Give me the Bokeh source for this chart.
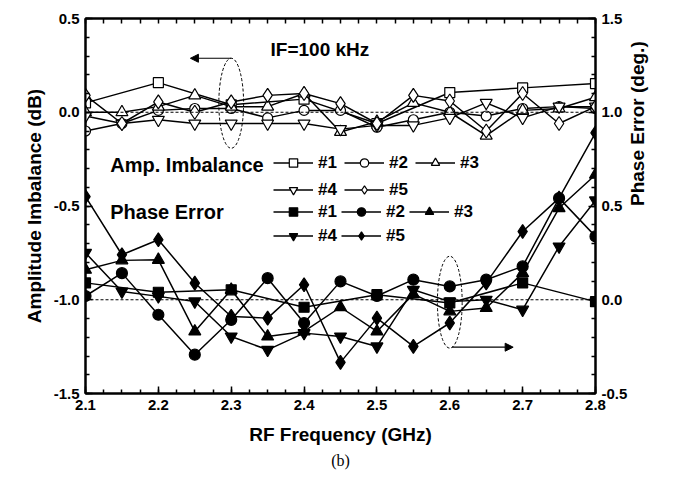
import numpy as np
from bokeh.plotting import figure
from bokeh.models import (Range1d, LinearAxis, FixedTicker, PrintfTickFormatter, Span, Label,
                          Legend, LegendItem, Arrow, NormalHead, Title)
from bokeh.embed import file_html
from bokeh.resources import INLINE

# ---------------- data ----------------
freq_fine = [2.10, 2.15, 2.20, 2.25, 2.30, 2.35, 2.40, 2.45, 2.50, 2.55, 2.60, 2.65, 2.70, 2.75, 2.80]
freq_coarse = [2.1, 2.2, 2.3, 2.4, 2.5, 2.6, 2.7, 2.8]

# amplitude imbalance (dB), left axis
amp_1 = [0.05, 0.158, 0.04, 0.07, -0.06, 0.105, 0.13, 0.153]
amp_2 = [-0.10, -0.06, 0.01, 0.02, 0.02, -0.03, 0.01, 0.01, -0.08, -0.04, 0.0, -0.02, 0.02, 0.03, 0.02]
amp_3 = [0.0, 0.0, 0.03, 0.09, 0.03, 0.03, 0.10, -0.105, -0.05, 0.05, 0.0, -0.125, 0.01, 0.02, 0.08]
amp_4 = [-0.02, -0.06, -0.04, -0.06, -0.06, -0.06, -0.06, -0.09, -0.07, -0.07, -0.03, 0.05, -0.03, 0.03, 0.03]
amp_5 = [0.09, -0.06, 0.055, 0.0, 0.055, 0.09, 0.10, 0.046, -0.06, 0.09, 0.06, -0.10, 0.10, -0.06, 0.03]

# phase error (deg.), right axis
ph_1 = [0.09, 0.04, 0.053, -0.04, 0.027, -0.017, 0.09, -0.01]
ph_2 = [0.02, 0.142, -0.08, -0.293, -0.107, 0.115, -0.124, 0.098, 0.02, 0.107, 0.071, 0.107, 0.178, 0.542, 0.338]
ph_3 = [0.16, 0.21, 0.213, -0.169, 0.053, -0.196, -0.169, -0.04, -0.169, 0.03, -0.062, -0.044, 0.142, 0.489, 0.667]
ph_4 = [0.25, 0.044, 0.018, -0.009, -0.196, -0.267, -0.178, -0.196, -0.249, 0.053, -0.01, 0.0, -0.053, 0.284, 0.53]
ph_5 = [0.55, 0.24, 0.32, 0.089, -0.089, -0.098, 0.08, -0.334, -0.098, -0.249, -0.124, 0.09, 0.364, 0.542, 0.89]

x_ticks = [2.1, 2.2, 2.3, 2.4, 2.5, 2.6, 2.7, 2.8]
amp_ticks = [-1.5, -1.0, -0.5, 0.0, 0.5]
phase_ticks = [-0.5, 0.0, 0.5, 1.0, 1.5]

# ---------------- figure ----------------
FONT = "Liberation Sans"
p = figure(width=675, height=478, output_backend="svg", toolbar_location=None,
           x_range=Range1d(2.1, 2.8), y_range=Range1d(-1.5, 0.5),
           min_border_left=85, min_border_right=80, min_border_top=18, min_border_bottom=85,
           background_fill_color="white", border_fill_color="white")
p.extra_y_ranges = {"phase": Range1d(-0.5, 1.5)}
p.xgrid.visible = False
p.ygrid.visible = False
p.outline_line_color = "black"
p.outline_line_width = 2

x_minor = list(np.round(np.arange(2.1, 2.8001, 0.025), 3))
amp_minor = list(np.round(np.arange(-1.5, 0.5001, 0.1), 2))
ph_minor = list(np.round(np.arange(-0.5, 1.5001, 0.1), 2))


def style_axis(ax):
    ax.axis_line_width = 2
    ax.axis_line_color = "black"
    ax.major_tick_in = 7
    ax.major_tick_out = 0
    ax.minor_tick_in = 4
    ax.minor_tick_out = 0
    ax.major_tick_line_width = 1.5
    ax.minor_tick_line_width = 1.5
    ax.major_tick_line_color = "black"
    ax.minor_tick_line_color = "black"
    ax.major_label_text_font = FONT
    ax.major_label_text_font_style = "bold"
    ax.major_label_text_font_size = "15px"
    ax.major_label_text_color = "black"
    ax.axis_label_text_font = FONT
    ax.axis_label_text_font_style = "bold"
    ax.axis_label_text_font_size = "19px"
    ax.axis_label_text_color = "black"
    ax.formatter = PrintfTickFormatter(format="%.1f")


xa = p.xaxis[0]
xa.ticker = FixedTicker(ticks=x_ticks, minor_ticks=x_minor)
style_axis(xa)
xa.axis_label = "RF Frequency (GHz)"
xa.major_label_standoff = 6
xa.axis_label_standoff = 11

ya = p.yaxis[0]
ya.ticker = FixedTicker(ticks=amp_ticks, minor_ticks=amp_minor)
style_axis(ya)
ya.axis_label = "Amplitude Imbalance (dB)"
ya.major_label_standoff = 6
ya.axis_label_standoff = 6

# top mirror axis: ticks only (no labels)
top = LinearAxis(ticker=FixedTicker(ticks=[], minor_ticks=x_minor))
style_axis(top)
top.minor_tick_in = 5
p.add_layout(top, "above")

ra = LinearAxis(y_range_name="phase", ticker=FixedTicker(ticks=phase_ticks, minor_ticks=ph_minor))
style_axis(ra)
ra.axis_label = "Phase Error (deg.)"
ra.major_label_standoff = 6
ra.axis_label_standoff = 7
ra.axis_label_orientation = np.pi / 2
p.add_layout(ra, "right")

# reference dashed lines
p.add_layout(Span(location=0.0, dimension="width", line_dash="3 2", line_width=1, line_color="black"))
p.add_layout(Span(location=0.0, dimension="width", line_dash="3 2", line_width=1, line_color="black",
                  y_range_name="phase"))

# ---------------- series ----------------
LW = 1.5
amp_series = [
    ("#1", freq_coarse, amp_1, "square", 10),
    ("#2", freq_fine, amp_2, "circle", 10),
    ("#3", freq_fine, amp_3, "triangle", 12),
    ("#4", freq_fine, amp_4, "inverted_triangle", 12),
    ("#5", freq_fine, amp_5, "diamond", 14),
]
ph_series = [
    ("#1", freq_coarse, ph_1, "square", 10),
    ("#2", freq_fine, ph_2, "circle", 11),
    ("#3", freq_fine, ph_3, "triangle", 12),
    ("#4", freq_fine, ph_4, "inverted_triangle", 12),
    ("#5", freq_fine, ph_5, "diamond", 14),
]

amp_items = []
for name, xs, ys, mk, sz in amp_series:
    lr = p.line(xs, ys, line_color="black", line_width=LW)
    sr = p.scatter(xs, ys, marker=mk, size=sz, fill_color="white", line_color="black", line_width=1.2)
    amp_items.append(LegendItem(label=name, renderers=[lr, sr]))

ph_items = []
for name, xs, ys, mk, sz in ph_series:
    lr = p.line(xs, ys, line_color="black", line_width=LW, y_range_name="phase")
    sr = p.scatter(xs, ys, marker=mk, size=sz, fill_color="black", line_color="black", line_width=1.2,
                   y_range_name="phase")
    ph_items.append(LegendItem(label=name, renderers=[lr, sr]))


def make_legend(items, loc, sp):
    lg = Legend(items=items, location=loc, orientation="horizontal", ncols=3,
                glyph_width=40, glyph_height=21, label_height=21, label_standoff=5, spacing=sp,
                padding=0, margin=0, background_fill_alpha=0, border_line_color=None,
                label_text_font=FONT, label_text_font_style="bold", label_text_font_size="17px",
                label_text_color="black")
    return lg


p.add_layout(make_legend(amp_items, (188, 193), 6))
p.add_layout(make_legend(ph_items, (188, 147), 3))

# ---------------- annotations ----------------
p.add_layout(Label(x=2.134, y=-0.283, text="Amp. Imbalance", text_font=FONT, text_font_style="bold",
                   text_font_size="20px", text_baseline="middle", text_color="black"))
p.add_layout(Label(x=2.134, y=-0.533, text="Phase Error", text_font=FONT, text_font_style="bold",
                   text_font_size="20px", text_baseline="middle", text_color="black"))
p.add_layout(Label(x=2.354, y=0.335, text="IF=100 kHz", text_font=FONT, text_font_style="bold",
                   text_font_size="19px", text_baseline="middle", text_color="black"))

p.ellipse(x=[2.3], y=[0.048], width=0.034, height=0.48, fill_color=None,
          line_color="black", line_dash="3 2", line_width=1)
p.ellipse(x=[2.6], y=[-1.013], width=0.034, height=0.49, fill_color=None,
          line_color="black", line_dash="3 2", line_width=1)
p.add_layout(Arrow(end=NormalHead(size=8, fill_color="black", line_color="black"),
                   x_start=2.3, y_start=0.288, x_end=2.244, y_end=0.288, line_width=1.2))
p.add_layout(Arrow(end=NormalHead(size=8, fill_color="black", line_color="black"),
                   x_start=2.603, y_start=-1.253, x_end=2.687, y_end=-1.253, line_width=1.2))

cap = Title(text="(b)", align="center", text_font="Liberation Serif", text_font_style="normal",
            text_font_size="16px", standoff=4, text_color="black")
p.add_layout(cap, "below")

open("out.html", "w").write(file_html(p, INLINE))
